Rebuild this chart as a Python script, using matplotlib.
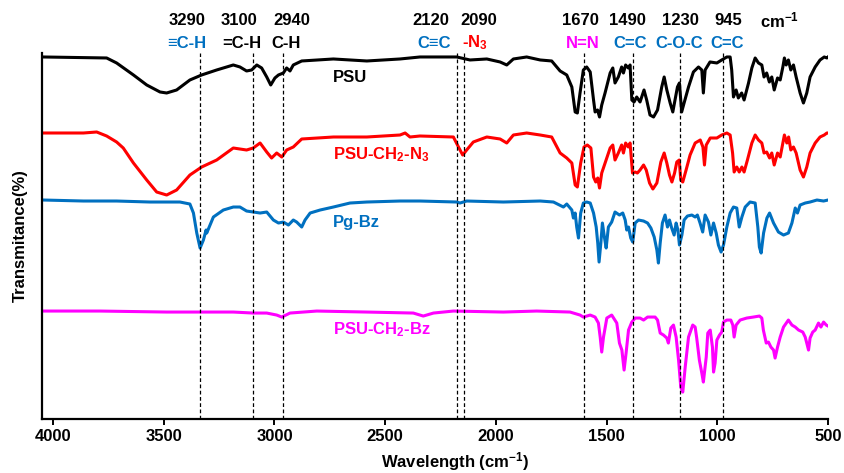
import numpy as np
import matplotlib.pyplot as plt

plt.rcParams['font.family'] = ['Liberation Sans', 'DejaVu Sans']
plt.rcParams['font.weight'] = 'bold'
plt.rcParams['mathtext.fontset'] = 'custom'
plt.rcParams['mathtext.rm'] = 'Liberation Sans:bold'
plt.rcParams['mathtext.bf'] = 'Liberation Sans:bold'
plt.rcParams['mathtext.default'] = 'bf'

# spectra (wavenumber, stacked transmittance in arbitrary units)
psu_wn = [4044, 3758, 3713, 3637, 3577, 3517, 3487, 3442, 3382, 3329, 3261, 3186, 3156, 3126,
          3103, 3080, 3058, 3035, 3017, 2998, 2982, 2960, 2945, 2930, 2915, 2877, 2734, 2583,
          2433, 2343, 2177, 2117, 2041, 1981, 1951, 1921, 1861, 1800, 1748, 1710, 1680, 1657,
          1642, 1632, 1620, 1605, 1590, 1574, 1559, 1552, 1541, 1532, 1522, 1507, 1484, 1472,
          1462, 1447, 1432, 1424, 1414, 1402, 1394, 1386, 1376, 1364, 1349, 1331, 1319, 1304,
          1288, 1270, 1251, 1240, 1228, 1213, 1201, 1191, 1180, 1171, 1161, 1150, 1130, 1108,
          1085, 1070, 1063, 1055, 1033, 1002, 980, 957, 942, 935, 927, 915, 905, 890, 879, 859,
          844, 829, 814, 799, 789, 777, 765, 754, 743, 728, 716, 704, 697, 689, 679, 668, 656,
          644, 626, 611, 596, 581, 558, 536, 517, 505, 500]
psu_t = [362, 361, 356, 344, 334, 327, 326, 329, 339, 344, 349, 354, 352, 348,
         349, 354, 351, 342, 334, 341, 344, 346, 351, 348, 354, 358, 360, 358,
         360, 362, 362, 359, 360, 357, 354, 360, 362, 359, 358, 348, 344, 332,
         307, 306, 326, 349, 352, 347, 319, 307, 309, 302, 314, 326, 346, 351,
         336, 342, 352, 346, 354, 351, 354, 319, 317, 322, 317, 329, 319, 304,
         302, 309, 332, 342, 329, 316, 307, 319, 332, 336, 307, 316, 332, 347,
         352, 349, 326, 349, 357, 356, 359, 362, 362, 349, 322, 329, 321, 326, 319, 336,
         351, 361, 356, 354, 342, 346, 337, 342, 329, 341, 339, 352, 361, 354, 359, 349, 354,
         342, 326, 316, 326, 342, 352, 359, 362, 361, 362]

n3_wn = [4044, 3939, 3863, 3803, 3758, 3713, 3683, 3637, 3577, 3532, 3487, 3442, 3382, 3329,
         3261, 3186, 3126, 3096, 3065, 3035, 3013, 2990, 2967, 2945, 2915, 2877, 2734, 2583,
         2433, 2410, 2388, 2343, 2192, 2169, 2150, 2132, 2102, 2041, 1981, 1951, 1921, 1861,
         1800, 1748, 1710, 1680, 1657, 1642, 1632, 1617, 1602, 1587, 1571, 1559, 1549, 1540,
         1532, 1522, 1507, 1484, 1472, 1462, 1447, 1432, 1424, 1414, 1402, 1394, 1383, 1371,
         1361, 1349, 1333, 1321, 1306, 1291, 1273, 1255, 1240, 1228, 1216, 1205, 1193, 1183,
         1172, 1165, 1156, 1141, 1123, 1100, 1077, 1065, 1058, 1050, 1032, 1002, 980, 957, 942,
         931, 924, 912, 901, 889, 879, 864, 844, 829, 814, 799, 789, 777, 764, 754, 743, 728,
         716, 704, 697, 686, 678, 668, 656, 644, 626, 611, 596, 581, 558, 536, 517, 505, 500]
n3_t = [286, 286, 286, 287, 283, 277, 271, 256, 239, 227, 224, 229, 244, 252,
        259, 271, 269, 271, 276, 267, 261, 266, 262, 269, 272, 280, 282, 282,
        284, 286, 282, 283, 282, 272, 264, 269, 277, 282, 280, 276, 284, 286,
        284, 282, 266, 261, 256, 234, 232, 256, 272, 274, 271, 242, 237, 241,
        231, 246, 256, 271, 274, 259, 266, 274, 266, 276, 272, 276, 246, 247,
        246, 249, 254, 249, 236, 230, 236, 257, 266, 256, 244, 237, 246, 257,
        259, 239, 237, 249, 264, 276, 279, 272, 254, 274, 281, 281, 284, 286, 284,
        266, 247, 252, 247, 252, 247, 259, 276, 284, 279, 276, 266, 267, 261, 266, 254, 266,
        262, 276, 284, 276, 282, 269, 272, 266, 249, 242, 252, 266, 276, 282, 284, 286, 286]

pgbz_wn = [4044, 3863, 3713, 3562, 3427, 3382, 3366, 3351, 3336, 3321, 3309, 3306, 3276, 3231,
           3186, 3156, 3126, 3096, 3065, 3035, 3005, 2982, 2960, 2937, 2915, 2900, 2877, 2862,
           2839, 2794, 2734, 2659, 2583, 2433, 2343, 2177, 2162, 2132, 1966, 1800, 1740, 1695,
           1680, 1657, 1650, 1642, 1635, 1627, 1617, 1605, 1590, 1574, 1559, 1547, 1540, 1534,
           1526, 1519, 1510, 1502, 1492, 1477, 1462, 1442, 1427, 1416, 1409, 1401, 1391, 1382,
           1371, 1356, 1333, 1315, 1300, 1285, 1273, 1266, 1258, 1248, 1236, 1225, 1216, 1206,
           1195, 1186, 1178, 1171, 1160, 1150, 1135, 1115, 1100, 1090, 1078, 1066, 1055, 1040,
           1029, 1017, 1005, 995, 983, 972, 957, 942, 927, 912, 901, 889, 874, 852, 829, 817,
           810, 802, 791, 776, 764, 746, 724, 701, 679, 663, 648, 638, 626, 603, 581, 550, 520, 500]
pgbz_t = [219, 218, 218, 217, 217, 215, 206, 186, 171, 179, 189, 186, 202, 209,
          212, 212, 208, 207, 206, 207, 199, 196, 197, 194, 199, 197, 192, 199,
          206, 209, 212, 216, 217, 218, 218, 217, 216, 218, 217, 218, 217, 212,
          215, 209, 201, 206, 192, 181, 206, 216, 217, 216, 206, 192, 176, 157,
          176, 196, 182, 171, 192, 197, 207, 204, 206, 199, 189, 192, 181, 177,
          196, 199, 198, 196, 191, 182, 169, 156, 176, 196, 204, 192, 199, 191,
          184, 196, 189, 174, 184, 199, 203, 204, 202, 204, 196, 187, 204, 197,
          184, 196, 186, 174, 167, 174, 192, 206, 212, 211, 192, 202, 212, 217, 216, 192,
          172, 166, 186, 201, 206, 196, 187, 184, 186, 196, 211, 206, 214, 216, 217, 219, 218, 219]

bz_wn = [4044, 3788, 3487, 3186, 3096, 3035, 2990, 2967, 2930, 2809, 2583, 2373, 2328, 2282,
         2192, 1966, 1816, 1665, 1620, 1605, 1574, 1552, 1537, 1529, 1522, 1514, 1499, 1477,
         1454, 1442, 1431, 1421, 1412, 1401, 1386, 1371, 1349, 1333, 1315, 1281, 1270, 1258,
         1243, 1228, 1221, 1210, 1198, 1186, 1175, 1165, 1156, 1145, 1130, 1111, 1100, 1093,
         1081, 1070, 1063, 1050, 1043, 1032, 1022, 1017, 1010, 1002, 990, 980, 972, 957, 939,
         930, 924, 915, 897, 867, 837, 810, 799, 792, 779, 769, 758, 746, 739, 728, 716, 701,
         679, 663, 648, 633, 614, 603, 596, 588, 581, 569, 558, 543, 532, 520, 508, 500]
bz_t = [108, 108, 107, 107, 106, 106, 104, 102, 106, 108, 107, 106, 103, 106,
        108, 107, 108, 107, 104, 102, 104, 102, 96, 82, 67, 82, 101, 104,
        96, 76, 69, 49, 66, 89, 97, 101, 101, 99, 102, 102, 99, 86,
        84, 81, 76, 91, 94, 82, 59, 32, 27, 52, 82, 94, 92, 81,
        59, 46, 37, 62, 86, 89, 72, 47, 56, 79, 84, 87, 97, 99, 99,
        94, 82, 94, 99, 101, 102, 103, 101, 89, 76, 77, 72, 69, 61, 72, 82, 92,
        99, 94, 92, 89, 87, 82, 76, 69, 81, 87, 89, 96, 92, 97, 94, 93]

names = ['PSU', r'PSU-CH$_2$-N$_3$', 'Pg-Bz', r'PSU-CH$_2$-Bz']
colors = ['black', '#ff0000', '#0070c0', '#ff00ff']
name_y = [341, 264, 197, 89]

# marked bands: where the dashed line sits, and the labels on top
band_pos = [3336, 3097, 2961, 2177, 2143, 1601, 1382, 1168, 975]
num_labels = ['3290', '3100', '2940', '2120', '2090', '1670', '1490', '1230', '945']
num_x = [3395, 3160, 2921, 2293, 2076, 1620, 1408, 1168, 951]
grp_labels = ['\u2261C-H', '=C-H', 'C-H', 'C\u2261C', r'-N$_3$', 'N=N', 'C=C', 'C-O-C', 'C=C']
grp_x = [3395, 3147, 2948, 2279, 2094, 1606, 1394, 1173, 956]
grp_colors = ['#0070c0', 'black', 'black', '#0070c0', '#ff0000', '#ff00ff',
              '#0070c0', '#0070c0', '#0070c0']

fig = plt.figure(figsize=(8.45, 4.73), dpi=100)
ax = fig.add_axes([0.0497, 0.114, 0.9302, 0.774])

for wn, t, c in zip([psu_wn, n3_wn, pgbz_wn, bz_wn], [psu_t, n3_t, pgbz_t, bz_t], colors):
    ax.plot(wn, t, color=c, lw=2.2, solid_joinstyle='round')

for p in band_pos:
    ax.axvline(p, color='black', lw=0.9, ls=(0, (3, 2)))

for nm, c, y in zip(names, colors, name_y):
    ax.text(2736, y, nm, color=c, fontsize=12, fontweight='bold', ha='left', va='center')

tr = ax.get_xaxis_transform()
for lab, x in zip(num_labels, num_x):
    ax.text(x, 1.09, lab, transform=tr, fontsize=12, fontweight='bold',
            ha='center', va='center')
ax.text(721, 1.09, r'cm$^{-1}$', transform=tr, fontsize=12, ha='center', va='center')
for lab, x, c in zip(grp_labels, grp_x, grp_colors):
    ax.text(x, 1.027, lab, transform=tr, fontsize=12, fontweight='bold', color=c,
            ha='center', va='center')

ax.set_xlim(4050, 500)
ax.set_ylim(0, 366)
ax.set_xticks([4000, 3500, 3000, 2500, 2000, 1500, 1000, 500])
ax.set_yticks([])
ax.spines['top'].set_visible(False)
ax.spines['right'].set_visible(False)
ax.spines['left'].set_linewidth(1.6)
ax.spines['bottom'].set_linewidth(1.6)
ax.tick_params(axis='x', direction='out', length=4, width=1.4, labelsize=12, pad=3)
for lb in ax.get_xticklabels():
    lb.set_fontweight('bold')
ax.set_xlabel(r'Wavelength (cm$^{-1}$)', fontsize=12, fontweight='bold', labelpad=4)
ax.xaxis.set_label_coords(0.525, -0.085)
ax.set_ylabel('Transmitance(%)', fontsize=12, fontweight='bold', labelpad=10)

fig.savefig('out.png', dpi=100)
